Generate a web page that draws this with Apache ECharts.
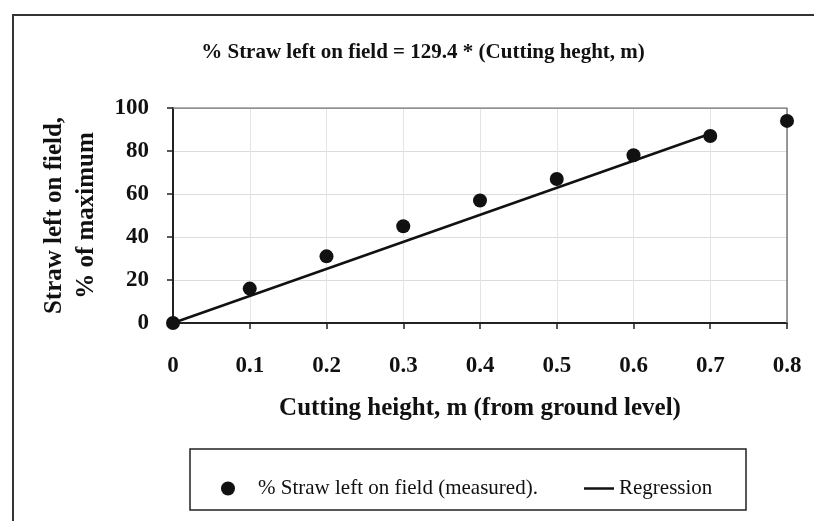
<!DOCTYPE html>
<html><head><meta charset="utf-8">
<script src="https://cdn.jsdelivr.net/npm/echarts@6/dist/echarts.min.js"></script>
<style>html,body{margin:0;padding:0;background:#fff}#c{width:814px;height:521px}</style>
</head><body><div id="c"></div>
<script>
const heights = [0, 0.1, 0.2, 0.3, 0.4, 0.5, 0.6, 0.7, 0.8];
const measured = [0, 16, 31, 45, 57, 67, 78, 87, 94];
const regressionX = [0, 0.7];
const regressionY = [0, 88];
const titleText = '% Straw left on field = 129.4 * (Cutting heght, m)';
const seriesNames = ['% Straw left on field (measured).', 'Regression'];

const serif = '"Liberation Serif", "DejaVu Serif", serif';
const chart = echarts.init(document.getElementById('c'));
chart.setOption({
  animation: false,
  backgroundColor: '#fff',
  title: {
    text: titleText, left: 418, top: 37, textAlign: 'center',
    textStyle: {fontFamily: serif, fontWeight: 'bold', fontSize: 21, color: '#111'}
  },
  graphic: [
    {type: 'polyline', shape: {points: [[13, 521], [13, 15], [814, 15]]},
     style: {stroke: '#333', lineWidth: 2, fill: null}},
    {type: 'rect', shape: {x: 190, y: 449, width: 556, height: 61},
     style: {stroke: '#222', lineWidth: 1.5, fill: null}}
  ],
  legend: [
    {
      left: 221, top: 478, padding: 0,
      itemWidth: 14, itemHeight: 14,
      textStyle: {fontFamily: serif, fontSize: 21, color: '#111', padding: [0, 0, 0, 18]},
      data: [{name: seriesNames[0], icon: 'circle'}]
    },
    {
      left: 584, top: 478, padding: 0,
      itemWidth: 30, itemHeight: 2.5,
      textStyle: {fontFamily: serif, fontSize: 21, color: '#111'},
      data: [{name: seriesNames[1], icon: 'rect'}]
    }
  ],
  grid: {left: 173, right: 27, top: 108, bottom: 198, containLabel: false},
  xAxis: {
    type: 'value', min: 0, max: 0.8, interval: 0.1,
    name: 'Cutting height, m (from ground level)', nameLocation: 'middle', nameGap: 73,
    nameTextStyle: {fontFamily: serif, fontWeight: 'bold', fontSize: 25, color: '#111'},
    axisLine: {show: true, lineStyle: {color: '#222', width: 2}},
    axisTick: {show: true, inside: false, length: 6, lineStyle: {color: '#222', width: 1.5}},
    axisLabel: {fontFamily: serif, fontWeight: 'bold', fontSize: 23, color: '#111', margin: 32,
      formatter: v => (Math.round(v * 10) / 10).toString()},
    splitLine: {show: true, lineStyle: {color: '#e4e4e4', width: 1}}
  },
  yAxis: {
    type: 'value', min: 0, max: 100, interval: 20,
    name: 'Straw left on field,\n% of maximum', nameLocation: 'middle', nameGap: 70,
    nameTextStyle: {fontFamily: serif, fontWeight: 'bold', fontSize: 25, color: '#111', lineHeight: 32},
    axisLine: {show: true, lineStyle: {color: '#222', width: 2}},
    axisTick: {show: true, inside: false, length: 6, lineStyle: {color: '#222', width: 1.5}},
    axisLabel: {fontFamily: serif, fontWeight: 'bold', fontSize: 23, color: '#111', margin: 24},
    splitLine: {show: true, lineStyle: {color: '#dcdcdc', width: 1}}
  },
  series: [
    {
      name: seriesNames[0], type: 'scatter', symbol: 'circle', symbolSize: 14,
      itemStyle: {color: '#111', opacity: 1}, z: 3,
      data: heights.map((h, i) => [h, measured[i]])
    },
    {
      name: seriesNames[1], type: 'line', symbol: 'none',
      lineStyle: {color: '#111', width: 2.5}, itemStyle: {color: '#111'}, z: 2,
      data: regressionX.map((h, i) => [h, regressionY[i]])
    },
    {
      type: 'line', silent: true, symbol: 'none', z: 1,
      lineStyle: {color: '#777', width: 1.5},
      data: [[0, 100], [0.8, 100], [0.8, 0]]
    }
  ]
});
</script></body></html>
